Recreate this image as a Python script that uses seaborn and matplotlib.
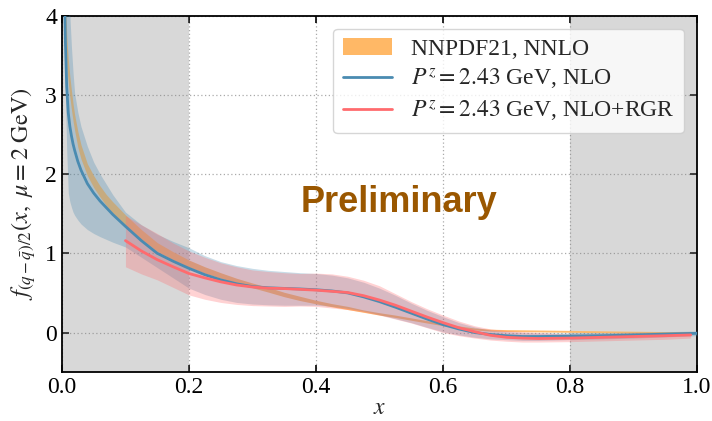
import numpy as np
import pandas as pd
import matplotlib
matplotlib.use("Agg")
import matplotlib.pyplot as plt
import seaborn as sns
from matplotlib.patches import Patch
from matplotlib.lines import Line2D

# ---- NNPDF21 NNLO band (lower / upper edges) ----
x_nnpdf = [0.002, 0.004, 0.006, 0.008, 0.01, 0.0125, 0.015, 0.0175, 0.02, 0.025,
           0.03, 0.04, 0.05, 0.06, 0.07, 0.08, 0.10, 0.125, 0.15, 0.175,
           0.20, 0.225, 0.25, 0.275, 0.30, 0.325, 0.35, 0.375, 0.40, 0.425,
           0.45, 0.475, 0.50, 0.525, 0.55, 0.575, 0.60, 0.625, 0.65, 0.675,
           0.70, 0.75, 0.80, 0.85, 0.90, 0.95, 1.00]
nnpdf_lo = [4.40, 4.00, 3.63, 3.32, 3.15, 2.97, 2.81, 2.67, 2.55, 2.34,
            2.19, 1.98, 1.83, 1.71, 1.60, 1.51, 1.355, 1.18, 1.025, 0.92,
            0.825, 0.75, 0.685, 0.625, 0.565, 0.51, 0.452, 0.403, 0.363, 0.325,
            0.29, 0.255, 0.22, 0.19, 0.155, 0.12, 0.087, 0.057, 0.033, 0.018,
            0.013, 0.008, 0.003, -0.002, -0.007, -0.012, -0.012]
nnpdf_hi = [5.20, 4.60, 4.07, 3.68, 3.45, 3.23, 3.05, 2.89, 2.75, 2.54,
            2.37, 2.13, 1.98, 1.85, 1.74, 1.65, 1.485, 1.30, 1.135, 1.02,
            0.915, 0.83, 0.755, 0.685, 0.625, 0.57, 0.508, 0.457, 0.407, 0.365,
            0.33, 0.285, 0.25, 0.22, 0.185, 0.15, 0.113, 0.083, 0.057, 0.042,
            0.037, 0.032, 0.027, 0.022, 0.017, 0.012, 0.012]

# ---- Pz = 2.43 GeV, NLO ----
x_nlo = [0.004, 0.0055, 0.0075, 0.01, 0.0125, 0.015, 0.0175, 0.02, 0.025, 0.03,
         0.04, 0.05, 0.06, 0.08, 0.10, 0.125, 0.15, 0.175, 0.20, 0.225,
         0.25, 0.275, 0.30, 0.325, 0.35, 0.375, 0.40, 0.425, 0.45, 0.475,
         0.50, 0.525, 0.55, 0.575, 0.60, 0.625, 0.65, 0.675, 0.70, 0.725,
         0.75, 0.80, 0.85, 0.90, 0.95, 1.00]
nlo_mid = [4.30, 3.65, 3.10, 2.77, 2.60, 2.48, 2.38, 2.30, 2.16, 2.05,
           1.88, 1.76, 1.66, 1.49, 1.34, 1.16, 1.00, 0.90, 0.81, 0.73,
           0.665, 0.615, 0.58, 0.565, 0.557, 0.55, 0.54, 0.525, 0.50, 0.45,
           0.39, 0.32, 0.245, 0.17, 0.10, 0.045, 0.0, -0.025, -0.04, -0.05,
           -0.05, -0.045, -0.04, -0.03, -0.02, -0.01]
nlo_lo = [3.60, 3.00, 2.30, 1.76, 1.65, 1.58, 1.52, 1.48, 1.42, 1.37,
          1.30, 1.25, 1.21, 1.14, 1.08, 0.95, 0.82, 0.69, 0.56, 0.48,
          0.42, 0.38, 0.36, 0.35, 0.345, 0.345, 0.345, 0.33, 0.305, 0.27,
          0.225, 0.175, 0.125, 0.065, 0.01, -0.03, -0.06, -0.08, -0.09, -0.10,
          -0.10, -0.09, -0.08, -0.07, -0.055, -0.04]
nlo_hi = [4.70, 4.50, 4.35, 4.20, 4.00, 3.60, 3.28, 3.02, 2.78, 2.60,
          2.35, 2.15, 2.00, 1.74, 1.52, 1.36, 1.24, 1.15, 1.07, 0.97,
          0.895, 0.845, 0.81, 0.785, 0.77, 0.755, 0.745, 0.725, 0.69, 0.635,
          0.56, 0.47, 0.37, 0.28, 0.20, 0.125, 0.07, 0.03, 0.01, 0.0,
          -0.005, -0.005, 0.0, 0.005, 0.01, 0.02]

# ---- Pz = 2.43 GeV, NLO+RGR ----
x_rgr = [0.10, 0.125, 0.15, 0.175, 0.20, 0.225, 0.25, 0.275, 0.30, 0.325,
         0.35, 0.375, 0.40, 0.425, 0.45, 0.475, 0.50, 0.525, 0.55, 0.575,
         0.60, 0.625, 0.65, 0.675, 0.70, 0.725, 0.75, 0.80, 0.85, 0.90,
         0.95, 0.99]
rgr_mid = [1.16, 1.03, 0.92, 0.83, 0.745, 0.69, 0.64, 0.60, 0.575, 0.56,
           0.555, 0.545, 0.535, 0.52, 0.505, 0.465, 0.41, 0.345, 0.27, 0.195,
           0.125, 0.06, 0.01, -0.035, -0.06, -0.07, -0.075, -0.07, -0.06, -0.05,
           -0.04, -0.03]
rgr_lo = [0.83, 0.74, 0.665, 0.57, 0.475, 0.42, 0.38, 0.355, 0.34, 0.335,
          0.33, 0.335, 0.33, 0.31, 0.29, 0.26, 0.22, 0.17, 0.12, 0.06,
          0.0, -0.04, -0.07, -0.095, -0.11, -0.12, -0.12, -0.115, -0.105, -0.095,
          -0.085, -0.07]
rgr_hi = [1.475, 1.36, 1.25, 1.13, 1.03, 0.95, 0.88, 0.83, 0.79, 0.77,
          0.755, 0.745, 0.75, 0.74, 0.71, 0.66, 0.59, 0.49, 0.39, 0.30,
          0.22, 0.145, 0.085, 0.045, 0.025, 0.01, 0.0, -0.02, -0.015, -0.005,
          0.0, 0.01]

x_ticks = [0.0, 0.2, 0.4, 0.6, 0.8, 1.0]
y_ticks = [0, 1, 2, 3, 4]
excluded_regions = [(0.0, 0.2), (0.8, 1.0)]

labels = ["NNPDF21, NNLO",
          r"$P^z = 2.43$ GeV, NLO",
          r"$P^z = 2.43$ GeV, NLO+RGR"]

c_orange = "#FFB866"
c_blue = "#4A8BB1"
c_red = "#FF6B6E"

sns.set_theme(style="ticks")
plt.rcParams.update({
    "font.family": ["Liberation Serif", "DejaVu Serif"],
    "mathtext.fontset": "stix",
    "xtick.direction": "in",
    "ytick.direction": "in",
    "xtick.top": True,
    "ytick.right": True,
    "xtick.major.size": 5,
    "ytick.major.size": 5,
    "axes.edgecolor": "black",
    "axes.linewidth": 1.3,
})

fig, ax = plt.subplots(figsize=(7.12, 4.21), dpi=100)
fig.subplots_adjust(left=0.087, right=0.979, top=0.963, bottom=0.116)

for a, b in excluded_regions:
    ax.axvspan(a, b, color="gray", alpha=0.3, lw=0, zorder=1)

ax.fill_between(x_nnpdf, nnpdf_lo, nnpdf_hi, color=c_orange, alpha=0.95, lw=0, zorder=2)
ax.fill_between(x_nlo, nlo_lo, nlo_hi, color=c_blue, alpha=0.3, lw=0, zorder=3)
ax.fill_between(x_rgr, rgr_lo, rgr_hi, color=c_red, alpha=0.3, lw=0, zorder=4)

df_nlo = pd.DataFrame({"x": x_nlo, "f": nlo_mid})
df_rgr = pd.DataFrame({"x": x_rgr, "f": rgr_mid})
sns.lineplot(data=df_nlo, x="x", y="f", color=c_blue, lw=2, ax=ax, zorder=5,
             sort=False, estimator=None)
sns.lineplot(data=df_rgr, x="x", y="f", color=c_red, lw=2, ax=ax, zorder=6,
             sort=False, estimator=None)

ax.set_xlim(0, 1)
ax.set_ylim(-0.5, 4)
ax.set_xticks(x_ticks)
ax.set_xticklabels([f"{v:.1f}" for v in x_ticks])
ax.set_yticks(y_ticks)
ax.set_yticklabels([str(v) for v in y_ticks])
ax.tick_params(labelsize=17, width=1.2, colors="black")
ax.grid(True, ls=(0, (1, 2)), color="#aaaaaa", lw=0.9)
ax.set_axisbelow(True)

ax.set_xlabel(r"$x$", fontsize=17, labelpad=0)
ax.set_ylabel(r"$f_{(q-\bar{q})/2}(x,\ \mu=2\ \mathrm{GeV})$", fontsize=17.5, labelpad=5)

ax.text(0.53, 1.52, "Preliminary", ha="center", va="baseline",
        fontsize=26, fontweight="bold", color="#9A5700",
        family=["Liberation Sans", "DejaVu Sans"], zorder=7)

handles = [Patch(facecolor=c_orange, edgecolor="none"),
           Line2D([], [], color=c_blue, lw=2),
           Line2D([], [], color=c_red, lw=2)]
leg = ax.legend(handles, labels, loc="upper right", fontsize=17,
                frameon=True, fancybox=True, framealpha=0.8,
                borderaxespad=0.55, handlelength=2.1, labelspacing=0.3)
leg.get_frame().set_edgecolor("#cccccc")

fig.savefig("out.png", dpi=100)
